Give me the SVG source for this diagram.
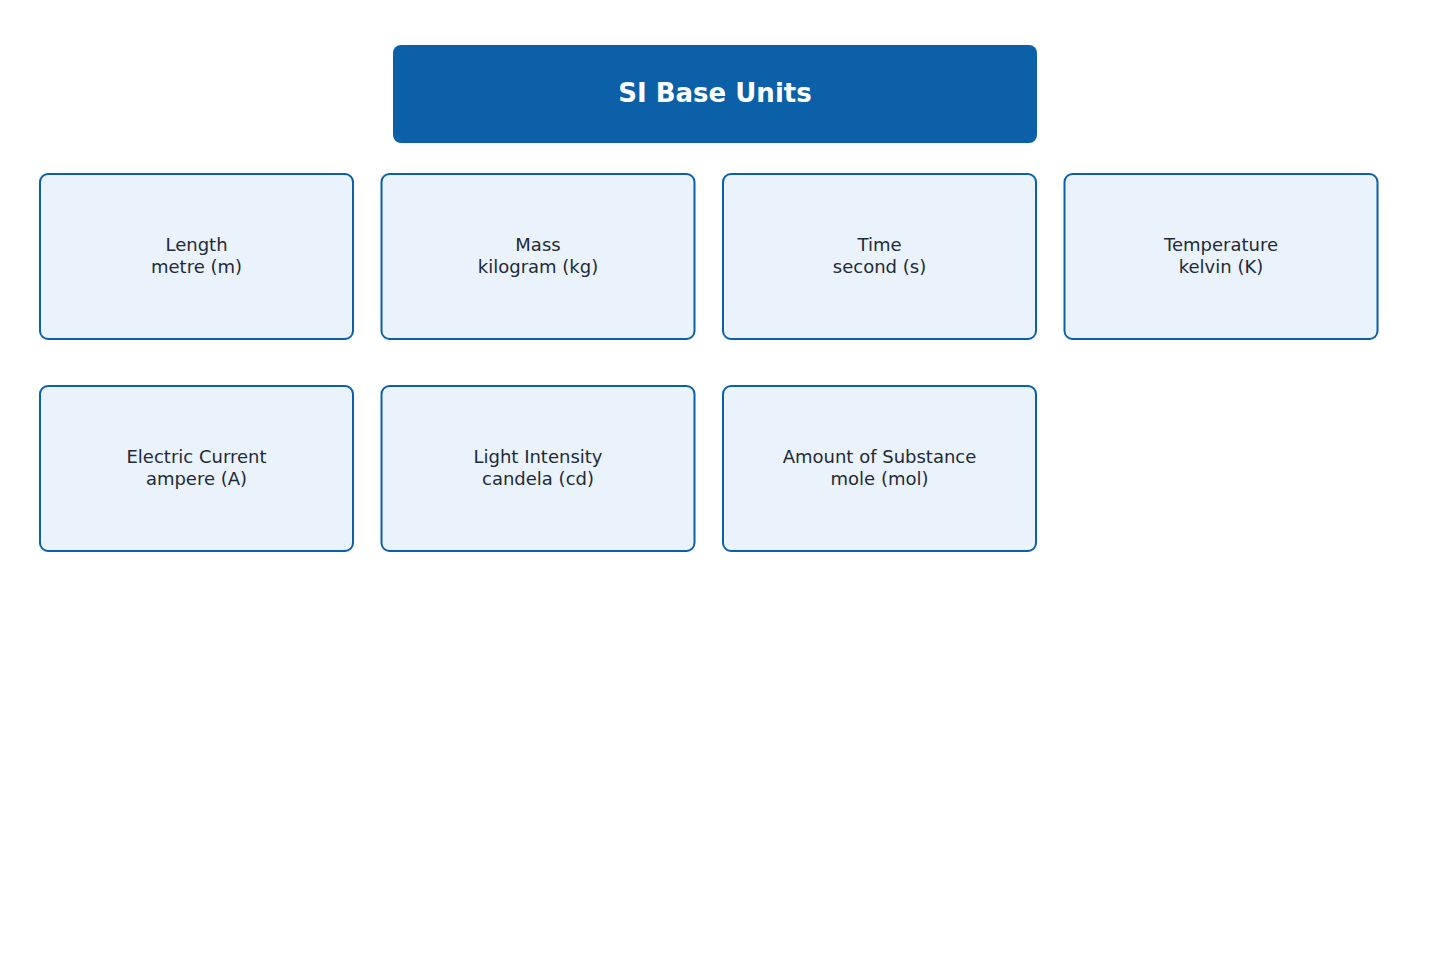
<svg xmlns="http://www.w3.org/2000/svg" width="1430" height="962" viewBox="0 0 1430 962">
<style>
.n rect{fill:#eaf2fb;stroke:#0b60a8;stroke-width:2}
.n text{font-family:"DejaVu Sans",sans-serif;font-size:18px;fill:#1f2a37;text-anchor:middle}
.t text{font-family:"DejaVu Sans",sans-serif;font-size:26px;font-weight:bold;fill:#fff;text-anchor:middle}
</style>
<rect width="1430" height="962" fill="#fff"/>
<g id="title" class="t"><rect x="393" y="45" width="644" height="98" rx="8" fill="#0b60a8"/><text x="715" y="102">SI Base Units</text></g>
<g id="connectors"></g>
<g id="length" class="n"><rect x="40" y="174" width="313" height="165" rx="8"/><text x="196.5" y="251">Length</text><text x="196.5" y="273">metre (m)</text></g>
<g id="mass" class="n"><rect x="381.5" y="174" width="313" height="165" rx="8"/><text x="538" y="251">Mass</text><text x="538" y="273">kilogram (kg)</text></g>
<g id="time" class="n"><rect x="723" y="174" width="313" height="165" rx="8"/><text x="879.5" y="251">Time</text><text x="879.5" y="273">second (s)</text></g>
<g id="temperature" class="n"><rect x="1064.5" y="174" width="313" height="165" rx="8"/><text x="1221" y="251">Temperature</text><text x="1221" y="273">kelvin (K)</text></g>
<g id="current" class="n"><rect x="40" y="386" width="313" height="165" rx="8"/><text x="196.5" y="463">Electric Current</text><text x="196.5" y="485">ampere (A)</text></g>
<g id="light" class="n"><rect x="381.5" y="386" width="313" height="165" rx="8"/><text x="538" y="463">Light Intensity</text><text x="538" y="485">candela (cd)</text></g>
<g id="amount" class="n"><rect x="723" y="386" width="313" height="165" rx="8"/><text x="879.5" y="463">Amount of Substance</text><text x="879.5" y="485">mole (mol)</text></g>
</svg>
